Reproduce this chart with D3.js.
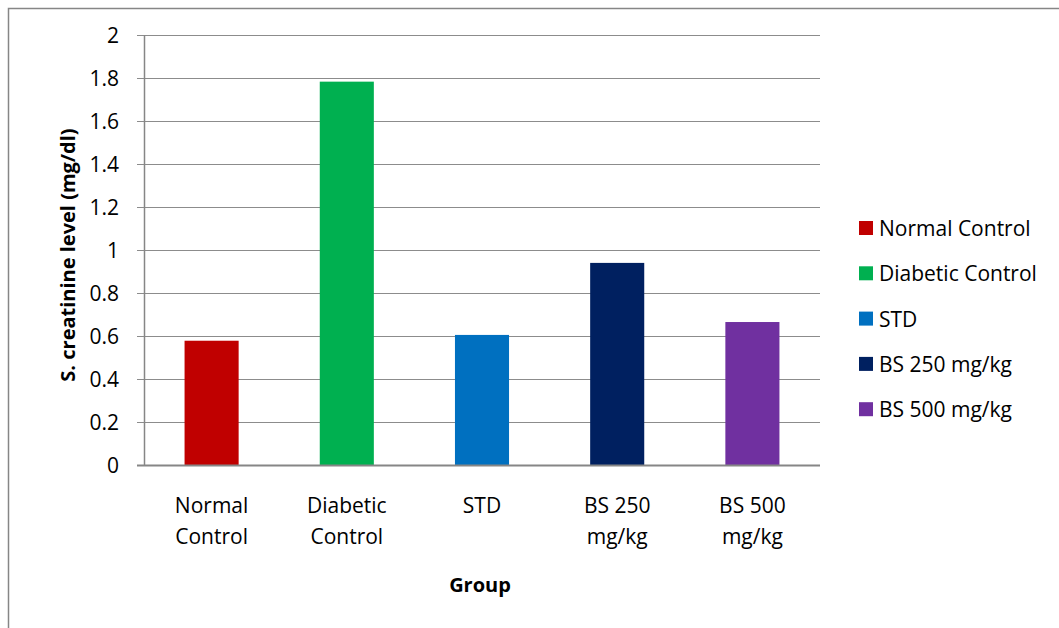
<!DOCTYPE html>
<html>
<head>
<meta charset="utf-8">
<script src="https://cdn.jsdelivr.net/npm/d3@7/dist/d3.min.js"></script>
<style>
  html, body { margin: 0; padding: 0; background: #fff; }
  svg { display: block; }
  text { font-family: "Open Sans", Lato, sans-serif; fill: #000; }
</style>
</head>
<body>
<svg id="chart" width="1059" height="628"></svg>
<script>
// Serum creatinine by treatment group
const categories = ["Normal Control", "Diabetic Control", "STD", "BS 250 mg/kg", "BS 500 mg/kg"];
const categoryLines = [["Normal", "Control"], ["Diabetic", "Control"], ["STD"], ["BS 250", "mg/kg"], ["BS 500", "mg/kg"]];
const values = [0.578, 1.783, 0.605, 0.94, 0.665];
const colors = ["#C00000", "#00B050", "#0070C0", "#002060", "#7030A0"];
const yTicks = [0, 0.2, 0.4, 0.6, 0.8, 1, 1.2, 1.4, 1.6, 1.8, 2];

const svg = d3.select("#chart");

// outer chart frame
svg.append("rect")
  .attr("x", 8.5).attr("y", 8.5)
  .attr("width", 1200).attr("height", 800)
  .attr("fill", "none").attr("stroke", "#868686").attr("stroke-width", 1.5);

const plot = { left: 144, right: 820, top: 35, bottom: 465 };

const x = d3.scaleBand()
  .domain(categories)
  .range([plot.left, plot.right])
  .paddingInner(0.6).paddingOuter(0.3);

const y = d3.scaleLinear().domain([0, 2]).range([plot.bottom, plot.top]);

// gridlines
svg.append("g")
  .selectAll("line")
  .data(yTicks)
  .join("line")
  .attr("x1", plot.left - 7).attr("x2", plot.right)
  .attr("y1", d => Math.round(y(d)) + 0.5).attr("y2", d => Math.round(y(d)) + 0.5)
  .attr("stroke", "#8c8c8c").attr("stroke-width", 1.2);

// y axis labels via d3 axis
const yAxis = svg.append("g")
  .attr("transform", `translate(${plot.left},0)`)
  .call(d3.axisLeft(y).tickValues(yTicks).tickFormat(d3.format("~g")).tickSize(7).tickPadding(18));
yAxis.select(".domain").remove();
yAxis.selectAll(".tick line").remove();
yAxis.selectAll("text")
  .style("font-family", "'Open Sans', Lato, sans-serif")
  .style("font-size", "21px")
  .attr("dy", "0.35em")
  .attr("fill", "#000");

// bars
svg.append("g")
  .selectAll("rect")
  .data(categories)
  .join("rect")
  .attr("x", d => x(d))
  .attr("width", x.bandwidth())
  .attr("y", (d, i) => y(values[i]))
  .attr("height", (d, i) => y(0) - y(values[i]))
  .attr("fill", (d, i) => colors[i]);

// axis lines
svg.append("line")
  .attr("x1", plot.left + 0.5).attr("x2", plot.left + 0.5)
  .attr("y1", plot.top).attr("y2", plot.bottom)
  .attr("stroke", "#868686").attr("stroke-width", 1.5);
svg.append("line")
  .attr("x1", plot.left - 7).attr("x2", plot.right)
  .attr("y1", plot.bottom + 0.5).attr("y2", plot.bottom + 0.5)
  .attr("stroke", "#868686").attr("stroke-width", 2);

// category labels
const xl = svg.append("g");
categories.forEach((c, i) => {
  const cx = x(c) + x.bandwidth() / 2;
  const t = xl.append("text")
    .attr("x", cx).attr("y", 513)
    .attr("text-anchor", "middle")
    .style("font-size", "21px");
  categoryLines[i].forEach((ln, j) => {
    t.append("tspan").attr("x", cx).attr("dy", j === 0 ? 0 : 31).text(ln);
  });
});

// axis titles
svg.append("text")
  .attr("x", 480).attr("y", 592)
  .attr("text-anchor", "middle")
  .style("font-size", "20px").style("font-weight", "bold")
  .text("Group");

svg.append("text")
  .attr("transform", "translate(75,255) rotate(-90)")
  .attr("text-anchor", "middle")
  .style("font-size", "20px").style("font-weight", "bold")
  .text("S. creatinine level (mg/dl)");

// legend
const legend = svg.append("g");
categories.forEach((c, i) => {
  const cy = 228 + i * 45.3;
  legend.append("rect")
    .attr("x", 859).attr("y", cy - 7)
    .attr("width", 14).attr("height", 14)
    .attr("fill", colors[i]);
  legend.append("text")
    .attr("x", 879).attr("y", cy + 8)
    .style("font-size", "21px")
    .text(c);
});
</script>
</body>
</html>
